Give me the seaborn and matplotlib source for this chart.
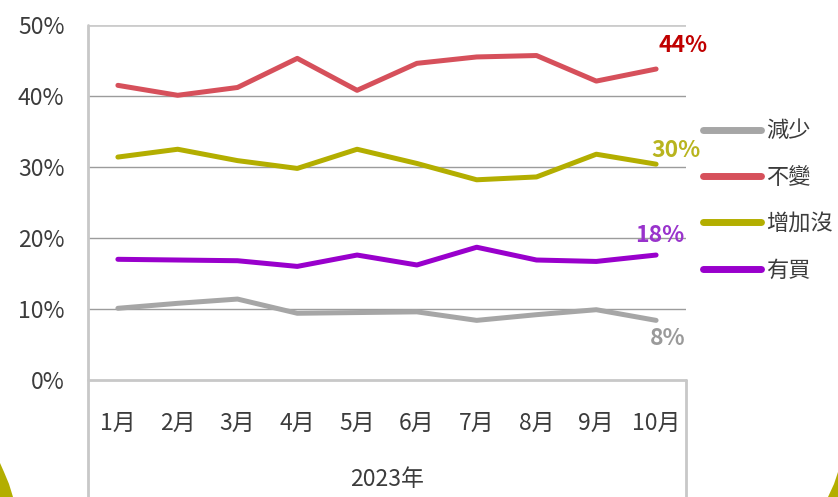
import numpy as np
import pandas as pd
import matplotlib.pyplot as plt
import seaborn as sns
from matplotlib.lines import Line2D
from matplotlib.patches import Polygon

# monthly shares (%)
months = ["1月", "2月", "3月", "4月", "5月", "6月", "7月", "8月", "9月", "10月"]
series_names = ["減少", "不變", "增加沒", "有買"]
decrease = [10.1, 10.8, 11.4, 9.4, 9.5, 9.6, 8.4, 9.2, 9.9, 8.4]
unchanged = [41.5, 40.1, 41.2, 45.3, 40.8, 44.6, 45.5, 45.7, 42.1, 43.8]
increase_none = [31.4, 32.5, 30.9, 29.8, 32.5, 30.5, 28.2, 28.6, 31.8, 30.4]
bought = [17.0, 16.9, 16.8, 16.0, 17.6, 16.2, 18.7, 16.9, 16.7, 17.6]
yticks = [0, 10, 20, 30, 40, 50]

line_colors = ["#a6a6a6", "#d6505b", "#b3ae00", "#9900cc"]
label_colors = ["#9a9a9a", "#c00000", "#b8b41e", "#9933cc"]
label_offsets = [(12, -18), (27, 24), (20, 14), (4, 20)]  # pixels


def setup_style():
    sns.set_theme(style="white")
    plt.rcParams["font.family"] = ["Noto Sans CJK TC", "DejaVu Sans"]
    plt.rcParams["axes.unicode_minus"] = False


def main():
    setup_style()
    df = pd.DataFrame({
        "month": months * 4,
        "series": np.repeat(series_names, len(months)),
        "value": decrease + unchanged + increase_none + bought,
    })

    fig = plt.figure(figsize=(8.38, 4.97), dpi=100)
    ax = fig.add_axes([0.105, 0.2354, 0.7136, 0.7143])

    sns.lineplot(data=df, x="month", y="value", hue="series",
                 hue_order=series_names, palette=line_colors,
                 linewidth=3.6, sort=False, legend=False, ax=ax, zorder=3)

    ax.set_xlim(-0.5, len(months) - 0.5)
    ax.set_ylim(0, 50)
    ax.set_yticks(yticks)
    ax.set_yticklabels([f"{t}%" for t in yticks])
    for t in yticks[1:-1]:
        ax.axhline(t, color="#9c9c9c", lw=1.0, zorder=1)
    ax.axhline(50, color="#cccccc", lw=2.0, zorder=1)

    for s in ["top", "right", "bottom", "left"]:
        ax.spines[s].set_visible(False)

    # axis frame lines (category box below the plot)
    ax.add_line(Line2D([0, 0], [-0.33, 1], transform=ax.transAxes,
                       color="#c8c8c8", lw=2.0, clip_on=False))
    ax.add_line(Line2D([1, 1], [-0.33, 0], transform=ax.transAxes,
                       color="#c8c8c8", lw=2.0, clip_on=False))
    ax.add_line(Line2D([0, 1], [0, 0], transform=ax.transAxes,
                       color="#c8c8c8", lw=2.0, clip_on=False))

    ax.tick_params(axis="both", length=0, labelsize=16.5, colors="#3c3c3c")
    ax.tick_params(axis="x", pad=23)
    ax.tick_params(axis="y", pad=17)
    ax.set_xlabel("2023年", fontsize=16.5, color="#3c3c3c", labelpad=24)
    ax.set_ylabel("")

    # end-of-line value labels
    all_vals = [decrease, unchanged, increase_none, bought]
    for vals, col, off in zip(all_vals, label_colors, label_offsets):
        ax.annotate(f"{round(vals[-1])}%", xy=(len(months) - 1, vals[-1]),
                    xytext=off, textcoords="offset pixels",
                    ha="center", va="center", fontsize=16.5,
                    fontweight="bold", color=col, zorder=4)

    handles = [Line2D([], [], color=c, lw=5) for c in line_colors]
    fig.legend(handles, series_names, loc="upper left",
               bbox_to_anchor=(0.815, 0.80), frameon=False,
               fontsize=16, handlelength=2.6, handletextpad=0.25,
               labelspacing=1.05, labelcolor="#3c3c3c")

    # slide border remnants in the bottom corners
    W, H = 838.0, 497.0
    bl = [(0, 463), (4, 472), (9, 484), (13, 497), (0, 497)]
    br = [(838, 472), (834, 484), (828, 497), (838, 497)]
    for pts in (bl, br):
        fig.patches.append(Polygon([(x / W, 1 - y / H) for x, y in pts],
                                   closed=True, transform=fig.transFigure,
                                   facecolor="#b3ae00", edgecolor="none"))

    fig.savefig("out.png", dpi=100)
    plt.close(fig)


if __name__ == "__main__":
    main()
